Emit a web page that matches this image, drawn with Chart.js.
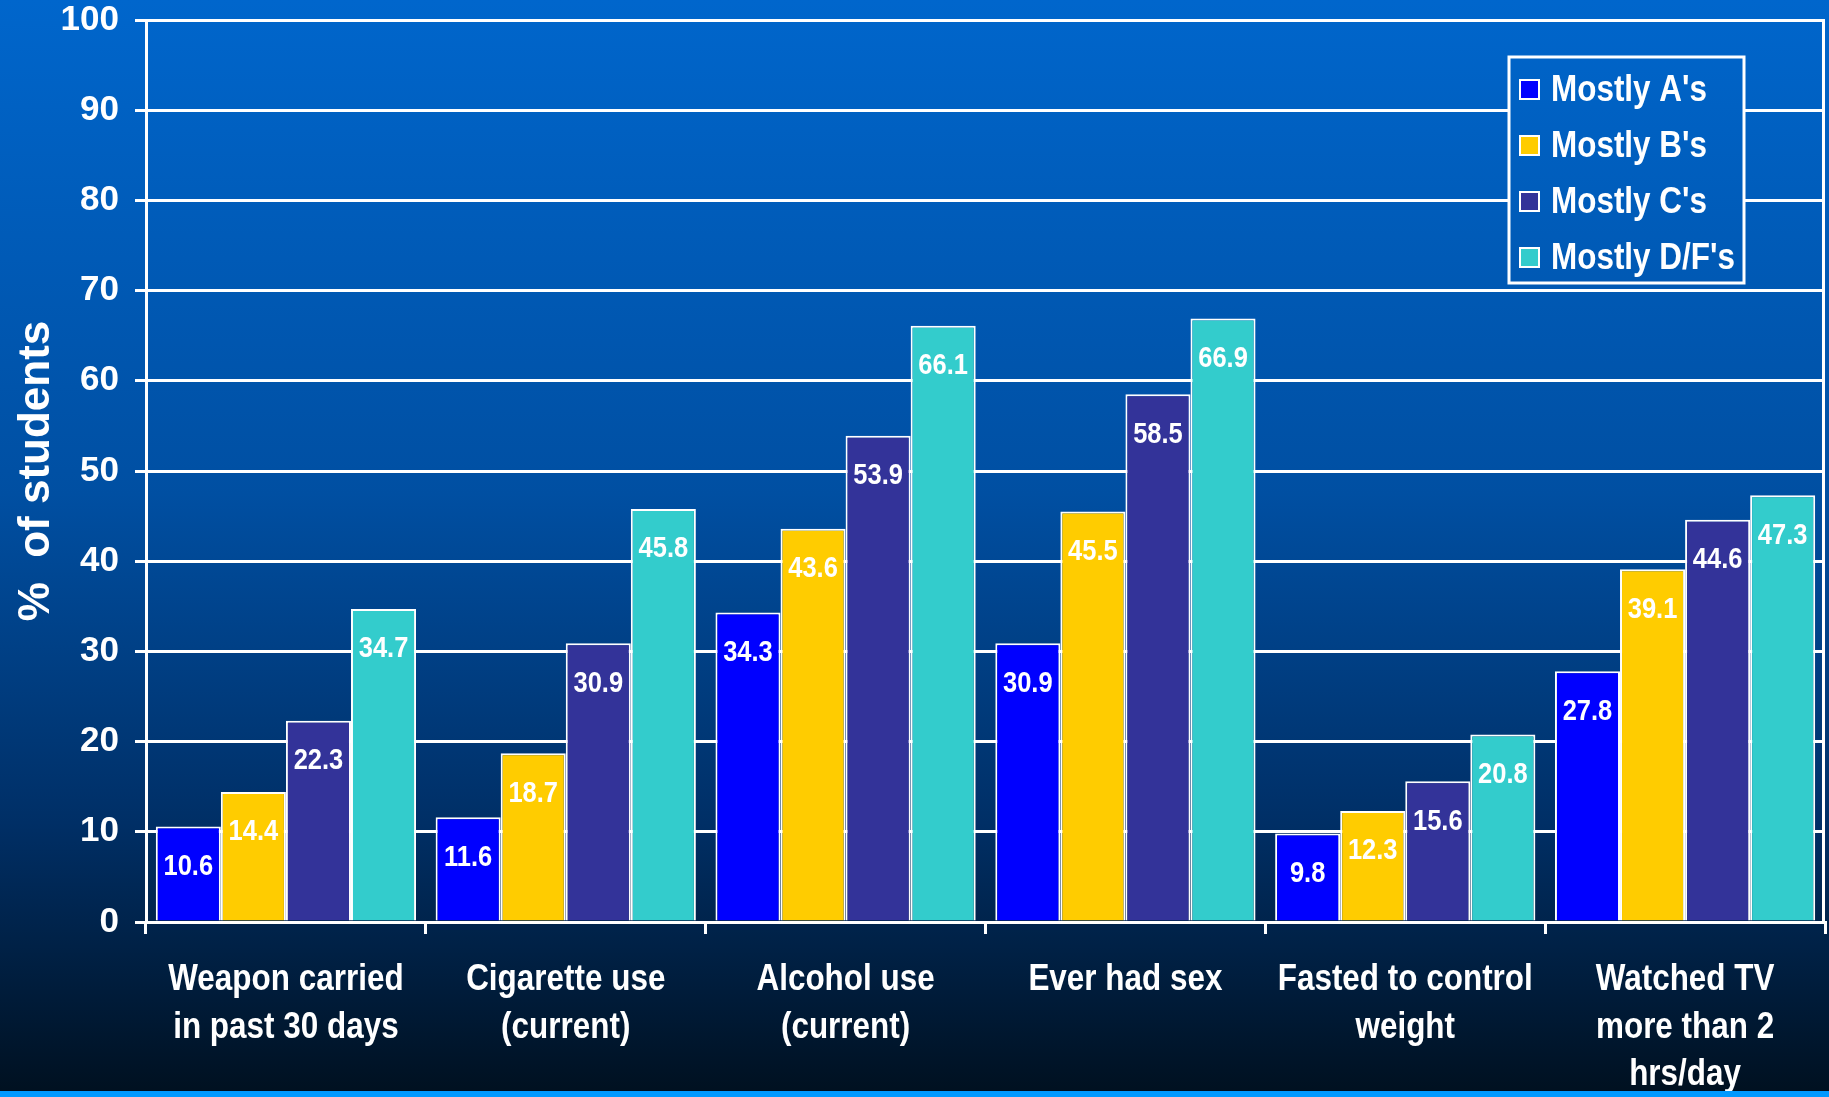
<!DOCTYPE html>
<html lang="en">
<head>
    <meta charset="UTF-8">
    <title>Risk behaviours by grades</title>
    <script src="https://cdn.jsdelivr.net/npm/chart.js"></script>
    <style>
        html, body { margin: 0; padding: 0; background: #001020; }
        #wrap { width: 1829px; height: 1097px; }
    </style>
</head>
<body>
    <div id="wrap">
        <canvas id="gradesChart" width="1829" height="1097"></canvas>
    </div>

    <script>
        // categories (multi-line labels) and one array per grade group
        const categories = [
            ['Weapon carried', 'in past 30 days'],
            ['Cigarette use', '(current)'],
            ['Alcohol use', '(current)'],
            ['Ever had sex'],
            ['Fasted to control', 'weight'],
            ['Watched TV', 'more than 2', 'hrs/day']
        ];
        const seriesNames = ["Mostly A's", "Mostly B's", "Mostly C's", "Mostly D/F's"];
        const mostlyA = [10.6, 11.6, 34.3, 30.9, 9.8, 27.8];
        const mostlyB = [14.4, 18.7, 43.6, 45.5, 12.3, 39.1];
        const mostlyC = [22.3, 30.9, 53.9, 58.5, 15.6, 44.6];
        const mostlyDF = [34.7, 45.8, 66.1, 66.9, 20.8, 47.3];
        const seriesColors = ['#0000ff', '#ffcc00', '#333399', '#33cccc'];
        const yTicks = [0, 10, 20, 30, 40, 50, 60, 70, 80, 90, 100];

        const family = "'Liberation Sans', Arial, sans-serif";
        const squeeze = 0.85; // the original used a condensed face

        function makeBg(ctx, h) {
            let g = ctx.createLinearGradient(0, 0, 0, h);
            g.addColorStop(0, '#0066cc');
            g.addColorStop(0.45, '#004fa2');
            g.addColorStop(0.75, '#002f66');
            g.addColorStop(1, '#00101f');
            return g;
        }

        // draw text squeezed horizontally around x
        function narrowText(ctx, text, x, y) {
            ctx.save();
            ctx.translate(x, y);
            ctx.scale(squeeze, 1);
            ctx.fillText(text, 0, 0);
            ctx.restore();
        }

        const backdrop = {
            id: 'backdrop',
            beforeDraw(chart) {
                const ctx = chart.ctx;
                ctx.save();
                ctx.fillStyle = makeBg(ctx, chart.height);
                ctx.fillRect(0, 0, chart.width, chart.height);
                ctx.restore();
            },
            afterDraw(chart) {
                const ctx = chart.ctx;
                const area = chart.chartArea;
                ctx.save();
                // right border of the plot
                ctx.strokeStyle = '#ffffff';
                ctx.lineWidth = 3;
                ctx.beginPath();
                ctx.moveTo(area.right - 1.5, area.top);
                ctx.lineTo(area.right - 1.5, area.bottom);
                ctx.stroke();

                // category labels
                const xs = chart.scales.x;
                ctx.fillStyle = '#ffffff';
                ctx.font = 'bold 37px ' + family;
                ctx.textAlign = 'center';
                ctx.textBaseline = 'middle';
                chart.data.labels.forEach((lines, i) => {
                    const px = xs.getPixelForTick(i);
                    lines.forEach((line, k) => {
                        narrowText(ctx, line, px, area.bottom + 58 + k * 47.5);
                    });
                });

                // light strip at the bottom
                ctx.fillStyle = '#0099ff';
                ctx.fillRect(0, chart.height - 6, chart.width, 6);
                ctx.restore();
            }
        };

        const barValues = {
            id: 'barValues',
            afterDatasetsDraw(chart) {
                const ctx = chart.ctx;
                ctx.save();
                ctx.font = 'bold 30px ' + family;
                ctx.fillStyle = '#ffffff';
                ctx.textAlign = 'center';
                ctx.textBaseline = 'middle';
                chart.data.datasets.forEach((ds, i) => {
                    chart.getDatasetMeta(i).data.forEach((bar, j) => {
                        narrowText(ctx, ds.data[j].toFixed(1), bar.x, bar.y + 40);
                    });
                });
                ctx.restore();
            }
        };

        const boxLegend = {
            id: 'boxLegend',
            afterDraw(chart) {
                const ctx = chart.ctx;
                const x = 1509, y = 57, w = 235, h = 226;
                ctx.save();
                ctx.fillStyle = makeBg(ctx, chart.height);
                ctx.fillRect(x, y, w, h);
                ctx.strokeStyle = '#ffffff';
                ctx.lineWidth = 3;
                ctx.strokeRect(x, y, w, h);
                ctx.font = 'bold 37px ' + family;
                ctx.textBaseline = 'middle';
                ctx.textAlign = 'left';
                chart.data.datasets.forEach((ds, i) => {
                    const cy = 90 + i * 56;
                    ctx.fillStyle = ds.backgroundColor;
                    ctx.fillRect(1520, cy - 10, 19, 19);
                    ctx.lineWidth = 2;
                    ctx.strokeRect(1520, cy - 10, 19, 19);
                    ctx.fillStyle = '#ffffff';
                    narrowText(ctx, ds.label, 1551, cy + 1);
                });
                ctx.restore();
            }
        };

        const seriesData = [mostlyA, mostlyB, mostlyC, mostlyDF];

        new Chart(document.getElementById('gradesChart'), {
            type: 'bar',
            data: {
                labels: categories,
                datasets: seriesData.map((vals, i) => ({
                    label: seriesNames[i],
                    data: vals,
                    backgroundColor: seriesColors[i],
                    borderColor: '#ffffff',
                    borderWidth: 2,
                    categoryPercentage: 0.93,
                    barPercentage: 1.0
                }))
            },
            options: {
                responsive: false,
                animation: false,
                layout: { padding: { top: 20, right: 4, left: 0, bottom: 0 } },
                plugins: {
                    legend: { display: false },
                    tooltip: { enabled: false }
                },
                scales: {
                    x: {
                        afterFit(scale) {
                            scale.height = 175;
                            scale.paddingLeft = 0;
                            scale.paddingRight = 0;
                        },
                        grid: {
                            drawOnChartArea: false,
                            offset: true,
                            color: '#ffffff',
                            lineWidth: 3,
                            tickLength: 12,
                            tickColor: '#ffffff'
                        },
                        border: { color: '#ffffff', width: 3 },
                        ticks: { display: false, autoSkip: false, maxRotation: 0 }
                    },
                    y: {
                        min: 0,
                        max: 100,
                        afterFit(scale) {
                            scale.width = 146;
                            scale.paddingTop = 0;
                            scale.paddingBottom = 0;
                        },
                        afterBuildTicks(scale) { scale.ticks = yTicks.map(v => ({ value: v })); },
                        grid: {
                            color: '#ffffff',
                            lineWidth: 3,
                            tickLength: 11,
                            tickColor: '#ffffff'
                        },
                        border: { color: '#ffffff', width: 3 },
                        ticks: {
                            color: '#ffffff',
                            padding: 16,
                            font: { family: family, size: 35, weight: 'bold' }
                        },
                        title: {
                            display: true,
                            text: '%  of students',
                            color: '#ffffff',
                            padding: { top: 10, bottom: 0 },
                            font: { family: family, size: 44, weight: 'bold' }
                        }
                    }
                }
            },
            plugins: [backdrop, barValues, boxLegend]
        });
    </script>
</body>
</html>
